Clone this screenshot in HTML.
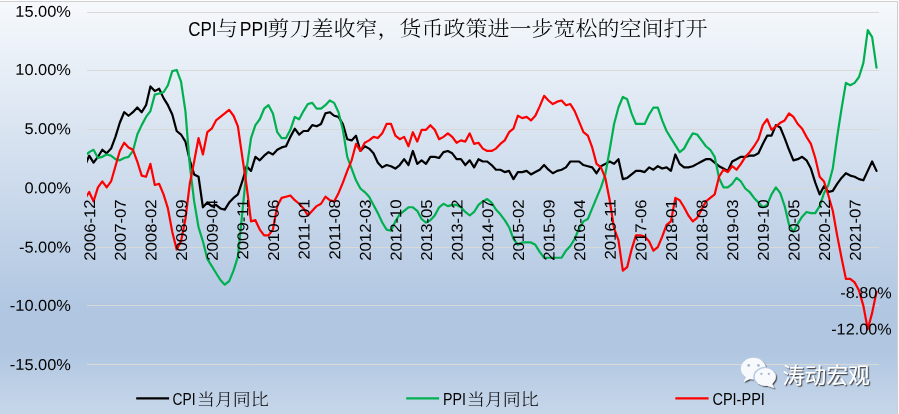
<!DOCTYPE html>
<html lang="zh-CN"><head><meta charset="utf-8"><title>CPI与PPI剪刀差</title>
<style>html,body{margin:0;padding:0;background:#fff;}svg{display:block;will-change:transform;}</style></head>
<body>
<svg width="899" height="414" viewBox="0 0 899 414">
<defs>
<linearGradient id="bg" gradientUnits="userSpaceOnUse" x1="0" y1="1.5" x2="0" y2="421.5">
<stop offset="0" stop-color="#F6F9FC"/>
<stop offset="0.74" stop-color="#B0C6E1"/>
<stop offset="0.83" stop-color="#B0C6E1"/>
<stop offset="1" stop-color="#CAD9EB"/>
</linearGradient>
<clipPath id="plot"><rect x="87.0" y="0" width="795.7" height="414"/></clipPath>
<filter id="sh" x="-10%" y="-10%" width="130%" height="140%"><feDropShadow dx="1.2" dy="1.2" stdDeviation="0.6" flood-color="#333" flood-opacity="0.85"/></filter>
</defs>
<rect width="899" height="414" fill="#fbfcfe"/>
<rect x="0" y="1.5" width="897.5" height="414" fill="url(#bg)"/>
<path d="M0,1.5 H897.5 V414" fill="none" stroke="#cfcfcf" stroke-width="1"/>
<line x1="87" x2="879" y1="12.5" y2="12.5" stroke="#d9d9d9" stroke-width="1" shape-rendering="crispEdges"/>
<line x1="87" x2="879" y1="70.5" y2="70.5" stroke="#d9d9d9" stroke-width="1" shape-rendering="crispEdges"/>
<line x1="87" x2="879" y1="129.5" y2="129.5" stroke="#d9d9d9" stroke-width="1" shape-rendering="crispEdges"/>
<line x1="87" x2="879" y1="188.5" y2="188.5" stroke="#d9d9d9" stroke-width="1" shape-rendering="crispEdges"/>
<line x1="87" x2="879" y1="247.5" y2="247.5" stroke="#d9d9d9" stroke-width="1" shape-rendering="crispEdges"/>
<line x1="87" x2="879" y1="305.5" y2="305.5" stroke="#d9d9d9" stroke-width="1" shape-rendering="crispEdges"/>
<line x1="87" x2="879" y1="364.5" y2="364.5" stroke="#d9d9d9" stroke-width="1" shape-rendering="crispEdges"/>
<line x1="87.5" x2="87.5" y1="189" y2="194" stroke="#d6d9de" stroke-width="1" shape-rendering="crispEdges"/>
<line x1="117.5" x2="117.5" y1="189" y2="194" stroke="#d6d9de" stroke-width="1" shape-rendering="crispEdges"/>
<line x1="148.5" x2="148.5" y1="189" y2="194" stroke="#d6d9de" stroke-width="1" shape-rendering="crispEdges"/>
<line x1="178.5" x2="178.5" y1="189" y2="194" stroke="#d6d9de" stroke-width="1" shape-rendering="crispEdges"/>
<line x1="209.5" x2="209.5" y1="189" y2="194" stroke="#d6d9de" stroke-width="1" shape-rendering="crispEdges"/>
<line x1="240.5" x2="240.5" y1="189" y2="194" stroke="#d6d9de" stroke-width="1" shape-rendering="crispEdges"/>
<line x1="270.5" x2="270.5" y1="189" y2="194" stroke="#d6d9de" stroke-width="1" shape-rendering="crispEdges"/>
<line x1="301.5" x2="301.5" y1="189" y2="194" stroke="#d6d9de" stroke-width="1" shape-rendering="crispEdges"/>
<line x1="331.5" x2="331.5" y1="189" y2="194" stroke="#d6d9de" stroke-width="1" shape-rendering="crispEdges"/>
<line x1="362.5" x2="362.5" y1="189" y2="194" stroke="#d6d9de" stroke-width="1" shape-rendering="crispEdges"/>
<line x1="393.5" x2="393.5" y1="189" y2="194" stroke="#d6d9de" stroke-width="1" shape-rendering="crispEdges"/>
<line x1="423.5" x2="423.5" y1="189" y2="194" stroke="#d6d9de" stroke-width="1" shape-rendering="crispEdges"/>
<line x1="454.5" x2="454.5" y1="189" y2="194" stroke="#d6d9de" stroke-width="1" shape-rendering="crispEdges"/>
<line x1="485.5" x2="485.5" y1="189" y2="194" stroke="#d6d9de" stroke-width="1" shape-rendering="crispEdges"/>
<line x1="515.5" x2="515.5" y1="189" y2="194" stroke="#d6d9de" stroke-width="1" shape-rendering="crispEdges"/>
<line x1="546.5" x2="546.5" y1="189" y2="194" stroke="#d6d9de" stroke-width="1" shape-rendering="crispEdges"/>
<line x1="576.5" x2="576.5" y1="189" y2="194" stroke="#d6d9de" stroke-width="1" shape-rendering="crispEdges"/>
<line x1="607.5" x2="607.5" y1="189" y2="194" stroke="#d6d9de" stroke-width="1" shape-rendering="crispEdges"/>
<line x1="638.5" x2="638.5" y1="189" y2="194" stroke="#d6d9de" stroke-width="1" shape-rendering="crispEdges"/>
<line x1="668.5" x2="668.5" y1="189" y2="194" stroke="#d6d9de" stroke-width="1" shape-rendering="crispEdges"/>
<line x1="699.5" x2="699.5" y1="189" y2="194" stroke="#d6d9de" stroke-width="1" shape-rendering="crispEdges"/>
<line x1="729.5" x2="729.5" y1="189" y2="194" stroke="#d6d9de" stroke-width="1" shape-rendering="crispEdges"/>
<line x1="760.5" x2="760.5" y1="189" y2="194" stroke="#d6d9de" stroke-width="1" shape-rendering="crispEdges"/>
<line x1="791.5" x2="791.5" y1="189" y2="194" stroke="#d6d9de" stroke-width="1" shape-rendering="crispEdges"/>
<line x1="821.5" x2="821.5" y1="189" y2="194" stroke="#d6d9de" stroke-width="1" shape-rendering="crispEdges"/>
<line x1="852.5" x2="852.5" y1="189" y2="194" stroke="#d6d9de" stroke-width="1" shape-rendering="crispEdges"/>
<text transform="translate(70.9,16.80) rotate(0.15) scale(1.045,1)" text-anchor="end" font-family='"Liberation Sans", "Noto Sans CJK SC", sans-serif' font-size="15.7" fill="#000">15.00%</text>
<text transform="translate(70.9,75.00) rotate(0.15) scale(1.045,1)" text-anchor="end" font-family='"Liberation Sans", "Noto Sans CJK SC", sans-serif' font-size="15.7" fill="#000">10.00%</text>
<text transform="translate(70.9,134.20) rotate(0.15) scale(1.045,1)" text-anchor="end" font-family='"Liberation Sans", "Noto Sans CJK SC", sans-serif' font-size="15.7" fill="#000">5.00%</text>
<text transform="translate(70.9,193.40) rotate(0.15) scale(1.045,1)" text-anchor="end" font-family='"Liberation Sans", "Noto Sans CJK SC", sans-serif' font-size="15.7" fill="#000">0.00%</text>
<text transform="translate(70.9,252.60) rotate(0.15) scale(1.045,1)" text-anchor="end" font-family='"Liberation Sans", "Noto Sans CJK SC", sans-serif' font-size="15.7" fill="#000">-5.00%</text>
<text transform="translate(70.9,310.80) rotate(0.15) scale(1.045,1)" text-anchor="end" font-family='"Liberation Sans", "Noto Sans CJK SC", sans-serif' font-size="15.7" fill="#000">-10.00%</text>
<text transform="translate(70.9,370.00) rotate(0.15) scale(1.045,1)" text-anchor="end" font-family='"Liberation Sans", "Noto Sans CJK SC", sans-serif' font-size="15.7" fill="#000">-15.00%</text>
<path clip-path="url(#plot)" d="M84.81,166.21 L89.19,155.65 L93.56,162.69 L97.94,156.82 L102.31,149.78 L106.68,153.30 L111.06,148.61 L115.43,136.87 L119.81,122.79 L124.18,112.23 L128.55,115.75 L132.93,112.23 L137.30,107.54 L141.68,112.23 L146.05,105.19 L150.42,86.42 L154.80,91.11 L159.17,88.77 L163.55,98.15 L167.92,105.19 L172.29,114.58 L176.67,131.01 L181.04,134.53 L185.42,141.57 L189.79,160.34 L194.16,174.42 L198.54,176.77 L202.91,207.27 L207.29,202.58 L211.66,206.10 L216.03,204.93 L220.41,208.45 L224.78,209.62 L229.16,202.58 L233.53,197.89 L237.90,194.37 L242.28,181.46 L246.65,166.21 L251.03,170.90 L255.40,156.82 L259.77,160.34 L264.15,155.65 L268.52,152.13 L272.90,154.47 L277.27,149.78 L281.64,147.43 L286.02,146.26 L290.39,136.87 L294.77,128.66 L299.14,134.53 L303.51,131.01 L307.89,131.01 L312.26,125.14 L316.64,126.31 L321.01,123.97 L325.38,113.41 L329.76,112.23 L334.13,115.75 L338.51,116.93 L342.88,123.97 L347.25,139.22 L351.63,140.39 L356.00,135.70 L360.38,150.95 L364.75,146.26 L369.13,148.61 L373.50,153.30 L377.87,162.69 L382.25,167.38 L386.62,165.03 L391.00,166.21 L395.37,168.55 L399.74,165.03 L404.12,159.17 L408.49,165.03 L412.87,150.95 L417.24,163.86 L421.61,160.34 L425.99,163.86 L430.36,156.82 L434.74,156.82 L439.11,157.99 L443.48,152.13 L447.86,150.95 L452.23,153.30 L456.61,159.17 L460.98,159.17 L465.35,165.03 L469.73,160.34 L474.10,167.38 L478.48,159.17 L482.85,161.51 L487.22,161.51 L491.60,165.03 L495.97,169.73 L500.35,169.73 L504.72,172.07 L509.09,170.90 L513.47,179.11 L517.84,172.07 L522.22,172.07 L526.59,170.90 L530.96,174.42 L535.34,172.07 L539.71,169.73 L544.09,165.03 L548.46,169.73 L552.83,173.25 L557.21,170.90 L561.58,169.73 L565.96,167.38 L570.33,161.51 L574.70,161.51 L579.08,161.51 L583.45,165.03 L587.83,166.21 L592.20,167.38 L596.57,173.25 L600.95,166.21 L605.32,163.86 L609.70,161.51 L614.07,163.86 L618.45,159.17 L622.82,179.11 L627.19,177.94 L631.57,174.42 L635.94,170.90 L640.32,170.90 L644.69,172.07 L649.06,167.38 L653.44,169.73 L657.81,166.21 L662.19,168.55 L666.56,167.38 L670.93,170.90 L675.31,154.47 L679.68,163.86 L684.06,167.38 L688.43,167.38 L692.80,166.21 L697.18,163.86 L701.55,161.51 L705.93,159.17 L710.30,159.17 L714.67,162.69 L719.05,166.21 L723.42,168.55 L727.80,170.90 L732.17,161.51 L736.54,159.17 L740.92,156.82 L745.29,156.82 L749.67,155.65 L754.04,155.65 L758.41,153.30 L762.79,143.91 L767.16,135.70 L771.54,135.70 L775.91,125.14 L780.28,127.49 L784.66,138.05 L789.03,149.78 L793.41,160.34 L797.78,159.17 L802.15,156.82 L806.53,160.34 L810.90,168.55 L815.28,182.63 L819.65,194.37 L824.02,186.15 L828.40,192.02 L832.77,190.85 L837.15,183.81 L841.52,177.94 L845.89,173.25 L850.27,175.59 L854.64,176.77 L859.02,179.11 L863.39,180.29 L867.76,170.90 L872.14,161.51 L876.51,170.90" fill="none" stroke="#000000" stroke-width="2.2" stroke-linejoin="round" stroke-linecap="round"/>
<path clip-path="url(#plot)" d="M84.81,155.88 L89.19,152.13 L93.56,149.78 L97.94,157.99 L102.31,156.82 L106.68,154.47 L111.06,155.65 L115.43,159.17 L119.81,160.34 L124.18,157.99 L128.55,156.82 L132.93,150.95 L137.30,134.53 L141.68,125.14 L146.05,116.93 L150.42,111.06 L154.80,94.63 L159.17,93.46 L163.55,92.29 L167.92,85.25 L172.29,71.17 L176.67,69.99 L181.04,81.73 L185.42,111.06 L189.79,165.03 L194.16,201.41 L198.54,227.22 L202.91,241.30 L207.29,258.90 L211.66,265.94 L216.03,272.98 L220.41,280.02 L224.78,284.71 L229.16,281.19 L233.53,270.63 L237.90,256.55 L242.28,213.14 L246.65,168.55 L251.03,138.05 L255.40,125.14 L259.77,119.27 L264.15,108.71 L268.52,105.19 L272.90,113.41 L277.27,132.18 L281.64,138.05 L286.02,138.05 L290.39,129.83 L294.77,116.93 L299.14,119.27 L303.51,111.06 L307.89,104.02 L312.26,102.85 L316.64,108.71 L321.01,108.71 L325.38,105.19 L329.76,100.50 L334.13,102.85 L338.51,112.23 L342.88,129.83 L347.25,156.82 L351.63,168.55 L356.00,180.29 L360.38,188.50 L364.75,192.02 L369.13,196.71 L373.50,204.93 L377.87,213.14 L382.25,222.53 L386.62,229.57 L391.00,230.74 L395.37,221.35 L399.74,214.31 L404.12,210.79 L408.49,207.27 L412.87,207.27 L417.24,210.79 L421.61,219.01 L425.99,222.53 L430.36,220.18 L434.74,215.49 L439.11,207.27 L443.48,203.75 L447.86,206.10 L452.23,204.93 L456.61,204.93 L460.98,207.27 L465.35,211.97 L469.73,215.49 L474.10,211.97 L478.48,204.93 L482.85,201.41 L487.22,199.06 L491.60,202.58 L495.97,209.62 L500.35,214.31 L504.72,220.18 L509.09,227.22 L513.47,238.95 L517.84,244.82 L522.22,242.47 L526.59,242.47 L530.96,242.47 L535.34,244.82 L539.71,251.86 L544.09,257.73 L548.46,257.73 L552.83,257.73 L557.21,257.73 L561.58,257.73 L565.96,250.69 L570.33,245.99 L574.70,238.95 L579.08,228.39 L583.45,221.35 L587.83,219.01 L592.20,208.45 L596.57,197.89 L600.95,187.33 L605.32,174.42 L609.70,149.78 L614.07,123.97 L618.45,107.54 L622.82,96.98 L627.19,99.33 L631.57,113.41 L635.94,123.97 L640.32,123.97 L644.69,123.97 L649.06,114.58 L653.44,107.54 L657.81,107.54 L662.19,120.45 L666.56,131.01 L670.93,138.05 L675.31,145.09 L679.68,152.13 L684.06,148.61 L688.43,140.39 L692.80,133.35 L697.18,134.53 L701.55,140.39 L705.93,146.26 L710.30,149.78 L714.67,156.82 L719.05,177.94 L723.42,187.33 L727.80,187.33 L732.17,183.81 L736.54,177.94 L740.92,181.46 L745.29,188.50 L749.67,192.02 L754.04,197.89 L758.41,202.58 L762.79,207.27 L767.16,204.93 L771.54,194.37 L775.91,187.33 L780.28,193.19 L784.66,206.10 L789.03,224.87 L793.41,231.91 L797.78,223.70 L802.15,216.66 L806.53,211.97 L810.90,213.14 L815.28,213.14 L819.65,206.10 L824.02,193.19 L828.40,184.98 L832.77,168.55 L837.15,136.87 L841.52,108.71 L845.89,82.90 L850.27,85.25 L854.64,82.90 L859.02,77.03 L863.39,62.95 L867.76,30.10 L872.14,37.14 L876.51,67.65" fill="none" stroke="#00b050" stroke-width="2.2" stroke-linejoin="round" stroke-linecap="round"/>
<path clip-path="url(#plot)" d="M84.81,198.83 L89.19,192.02 L93.56,201.41 L97.94,187.33 L102.31,181.46 L106.68,187.33 L111.06,181.46 L115.43,166.21 L119.81,150.95 L124.18,142.74 L128.55,147.43 L132.93,149.78 L137.30,161.51 L141.68,175.59 L146.05,176.77 L150.42,163.86 L154.80,184.98 L159.17,183.81 L163.55,194.37 L167.92,208.45 L172.29,231.91 L176.67,249.51 L181.04,241.30 L185.42,219.01 L189.79,183.81 L194.16,161.51 L198.54,138.05 L202.91,154.47 L207.29,132.18 L211.66,128.66 L216.03,120.45 L220.41,116.93 L224.78,113.41 L229.16,109.89 L233.53,115.75 L237.90,126.31 L242.28,156.82 L246.65,186.15 L251.03,221.35 L255.40,220.18 L259.77,229.57 L264.15,235.43 L268.52,235.43 L272.90,229.57 L277.27,206.10 L281.64,197.89 L286.02,196.71 L290.39,195.54 L294.77,200.23 L299.14,203.75 L303.51,208.45 L307.89,215.49 L312.26,210.79 L316.64,206.10 L321.01,203.75 L325.38,196.71 L329.76,200.23 L334.13,201.41 L338.51,193.19 L342.88,182.63 L347.25,170.90 L351.63,160.34 L356.00,143.91 L360.38,150.95 L364.75,142.74 L369.13,140.39 L373.50,136.87 L377.87,138.05 L382.25,133.35 L386.62,123.97 L391.00,123.97 L395.37,135.70 L399.74,139.22 L404.12,136.87 L408.49,146.26 L412.87,132.18 L417.24,141.57 L421.61,129.83 L425.99,129.83 L430.36,125.14 L434.74,129.83 L439.11,139.22 L443.48,136.87 L447.86,133.35 L452.23,136.87 L456.61,142.74 L460.98,140.39 L465.35,141.57 L469.73,133.35 L474.10,143.91 L478.48,142.74 L482.85,148.61 L487.22,150.95 L491.60,150.95 L495.97,148.61 L500.35,143.91 L504.72,140.39 L509.09,132.18 L513.47,128.66 L517.84,115.75 L522.22,118.10 L526.59,116.93 L530.96,120.45 L535.34,115.75 L539.71,106.37 L544.09,95.81 L548.46,100.50 L552.83,104.02 L557.21,101.67 L561.58,100.50 L565.96,105.19 L570.33,104.02 L574.70,111.06 L579.08,121.62 L583.45,132.18 L587.83,135.70 L592.20,147.43 L596.57,163.86 L600.95,167.38 L605.32,177.94 L609.70,200.23 L614.07,228.39 L618.45,240.13 L622.82,270.63 L627.19,267.11 L631.57,249.51 L635.94,235.43 L640.32,235.43 L644.69,236.61 L649.06,241.30 L653.44,250.69 L657.81,247.17 L662.19,236.61 L666.56,224.87 L670.93,221.35 L675.31,197.89 L679.68,200.23 L684.06,207.27 L688.43,215.49 L692.80,221.35 L697.18,217.83 L701.55,209.62 L705.93,201.41 L710.30,197.89 L714.67,194.37 L719.05,176.77 L723.42,169.73 L727.80,172.07 L732.17,166.21 L736.54,169.73 L740.92,163.86 L745.29,156.82 L749.67,152.13 L754.04,146.26 L758.41,139.22 L762.79,125.14 L767.16,119.27 L771.54,129.83 L775.91,126.31 L780.28,122.79 L784.66,120.45 L789.03,113.41 L793.41,116.93 L797.78,123.97 L802.15,128.66 L806.53,136.87 L810.90,143.91 L815.28,157.99 L819.65,176.77 L824.02,181.46 L828.40,195.54 L832.77,210.79 L837.15,235.43 L841.52,257.73 L845.89,278.85 L850.27,278.85 L854.64,282.37 L859.02,290.58 L863.39,305.83 L867.76,329.30 L872.14,312.87 L876.51,291.75" fill="none" stroke="#ff0000" stroke-width="2.2" stroke-linejoin="round" stroke-linecap="round"/>
<text transform="translate(95.09,199.30) rotate(-90.15) scale(1.068,1)" text-anchor="end" font-family='"Liberation Sans", "Noto Sans CJK SC", sans-serif' font-size="15.7" fill="#000">2006-12</text>
<text transform="translate(125.71,199.30) rotate(-90.15) scale(1.068,1)" text-anchor="end" font-family='"Liberation Sans", "Noto Sans CJK SC", sans-serif' font-size="15.7" fill="#000">2007-07</text>
<text transform="translate(156.32,199.30) rotate(-90.15) scale(1.068,1)" text-anchor="end" font-family='"Liberation Sans", "Noto Sans CJK SC", sans-serif' font-size="15.7" fill="#000">2008-02</text>
<text transform="translate(186.94,199.30) rotate(-90.15) scale(1.068,1)" text-anchor="end" font-family='"Liberation Sans", "Noto Sans CJK SC", sans-serif' font-size="15.7" fill="#000">2008-09</text>
<text transform="translate(217.56,199.30) rotate(-90.15) scale(1.068,1)" text-anchor="end" font-family='"Liberation Sans", "Noto Sans CJK SC", sans-serif' font-size="15.7" fill="#000">2009-04</text>
<text transform="translate(248.18,199.30) rotate(-90.15) scale(1.068,1)" text-anchor="end" font-family='"Liberation Sans", "Noto Sans CJK SC", sans-serif' font-size="15.7" fill="#000">2009-11</text>
<text transform="translate(278.80,199.30) rotate(-90.15) scale(1.068,1)" text-anchor="end" font-family='"Liberation Sans", "Noto Sans CJK SC", sans-serif' font-size="15.7" fill="#000">2010-06</text>
<text transform="translate(309.41,199.30) rotate(-90.15) scale(1.068,1)" text-anchor="end" font-family='"Liberation Sans", "Noto Sans CJK SC", sans-serif' font-size="15.7" fill="#000">2011-01</text>
<text transform="translate(340.03,199.30) rotate(-90.15) scale(1.068,1)" text-anchor="end" font-family='"Liberation Sans", "Noto Sans CJK SC", sans-serif' font-size="15.7" fill="#000">2011-08</text>
<text transform="translate(370.65,199.30) rotate(-90.15) scale(1.068,1)" text-anchor="end" font-family='"Liberation Sans", "Noto Sans CJK SC", sans-serif' font-size="15.7" fill="#000">2012-03</text>
<text transform="translate(401.27,199.30) rotate(-90.15) scale(1.068,1)" text-anchor="end" font-family='"Liberation Sans", "Noto Sans CJK SC", sans-serif' font-size="15.7" fill="#000">2012-10</text>
<text transform="translate(431.89,199.30) rotate(-90.15) scale(1.068,1)" text-anchor="end" font-family='"Liberation Sans", "Noto Sans CJK SC", sans-serif' font-size="15.7" fill="#000">2013-05</text>
<text transform="translate(462.51,199.30) rotate(-90.15) scale(1.068,1)" text-anchor="end" font-family='"Liberation Sans", "Noto Sans CJK SC", sans-serif' font-size="15.7" fill="#000">2013-12</text>
<text transform="translate(493.12,199.30) rotate(-90.15) scale(1.068,1)" text-anchor="end" font-family='"Liberation Sans", "Noto Sans CJK SC", sans-serif' font-size="15.7" fill="#000">2014-07</text>
<text transform="translate(523.74,199.30) rotate(-90.15) scale(1.068,1)" text-anchor="end" font-family='"Liberation Sans", "Noto Sans CJK SC", sans-serif' font-size="15.7" fill="#000">2015-02</text>
<text transform="translate(554.36,199.30) rotate(-90.15) scale(1.068,1)" text-anchor="end" font-family='"Liberation Sans", "Noto Sans CJK SC", sans-serif' font-size="15.7" fill="#000">2015-09</text>
<text transform="translate(584.98,199.30) rotate(-90.15) scale(1.068,1)" text-anchor="end" font-family='"Liberation Sans", "Noto Sans CJK SC", sans-serif' font-size="15.7" fill="#000">2016-04</text>
<text transform="translate(615.60,199.30) rotate(-90.15) scale(1.068,1)" text-anchor="end" font-family='"Liberation Sans", "Noto Sans CJK SC", sans-serif' font-size="15.7" fill="#000">2016-11</text>
<text transform="translate(646.22,199.30) rotate(-90.15) scale(1.068,1)" text-anchor="end" font-family='"Liberation Sans", "Noto Sans CJK SC", sans-serif' font-size="15.7" fill="#000">2017-06</text>
<text transform="translate(676.83,199.30) rotate(-90.15) scale(1.068,1)" text-anchor="end" font-family='"Liberation Sans", "Noto Sans CJK SC", sans-serif' font-size="15.7" fill="#000">2018-01</text>
<text transform="translate(707.45,199.30) rotate(-90.15) scale(1.068,1)" text-anchor="end" font-family='"Liberation Sans", "Noto Sans CJK SC", sans-serif' font-size="15.7" fill="#000">2018-08</text>
<text transform="translate(738.07,199.30) rotate(-90.15) scale(1.068,1)" text-anchor="end" font-family='"Liberation Sans", "Noto Sans CJK SC", sans-serif' font-size="15.7" fill="#000">2019-03</text>
<text transform="translate(768.69,199.30) rotate(-90.15) scale(1.068,1)" text-anchor="end" font-family='"Liberation Sans", "Noto Sans CJK SC", sans-serif' font-size="15.7" fill="#000">2019-10</text>
<text transform="translate(799.31,199.30) rotate(-90.15) scale(1.068,1)" text-anchor="end" font-family='"Liberation Sans", "Noto Sans CJK SC", sans-serif' font-size="15.7" fill="#000">2020-05</text>
<text transform="translate(829.92,199.30) rotate(-90.15) scale(1.068,1)" text-anchor="end" font-family='"Liberation Sans", "Noto Sans CJK SC", sans-serif' font-size="15.7" fill="#000">2020-12</text>
<text transform="translate(860.54,199.30) rotate(-90.15) scale(1.068,1)" text-anchor="end" font-family='"Liberation Sans", "Noto Sans CJK SC", sans-serif' font-size="15.7" fill="#000">2021-07</text>
<text transform="translate(0,28.4) scale(1,0.94) translate(0,-28.4)" font-size="22" fill="#000" font-family='"Liberation Sans", "Noto Serif CJK SC", serif' font-weight="300"><tspan x="188.3" y="36.5" font-size="21" textLength="28.3" lengthAdjust="spacingAndGlyphs">CPI</tspan><tspan x="215.9" y="36">与</tspan><tspan x="239.8" y="36.5" font-size="21" textLength="28.3" lengthAdjust="spacingAndGlyphs">PPI</tspan><tspan x="267.6" y="36">剪刀差收窄，货币政策进一步宽松的空间打开</tspan></text>
<text transform="translate(891.6,298.2) rotate(0.15) scale(1.033,1)" text-anchor="end" font-family='"Liberation Sans", "Noto Sans CJK SC", sans-serif' font-size="15.7" fill="#000">-8.80%</text>
<text transform="translate(891.6,334.6) rotate(0.15) scale(1.033,1)" text-anchor="end" font-family='"Liberation Sans", "Noto Sans CJK SC", sans-serif' font-size="15.7" fill="#000">-12.00%</text>
<line x1="136.2" x2="169.1" y1="398.4" y2="398.4" stroke="#000" stroke-width="2.3"/>
<text x="172.5" y="405.0" font-size="16" fill="#000" font-family='"Liberation Sans", "Noto Sans CJK SC", sans-serif' textLength="23" lengthAdjust="spacingAndGlyphs">CPI</text>
<text transform="translate(196.9,406.2) scale(1,0.91)" y="-1.2" font-size="18" fill="#000" font-family='"Liberation Sans", "Noto Serif CJK SC", serif' font-weight="300">当月同比</text>
<line x1="406.2" x2="439.1" y1="398.4" y2="398.4" stroke="#00b050" stroke-width="2.3"/>
<text x="442.9" y="405.0" font-size="16" fill="#000" font-family='"Liberation Sans", "Noto Sans CJK SC", sans-serif' textLength="23" lengthAdjust="spacingAndGlyphs">PPI</text>
<text transform="translate(466.9,406.2) scale(1,0.91)" y="-1.2" font-size="18" fill="#000" font-family='"Liberation Sans", "Noto Serif CJK SC", serif' font-weight="300">当月同比</text>
<line x1="675.3" x2="708.6" y1="398.4" y2="398.4" stroke="#ff0000" stroke-width="2.3"/>
<text x="712.4" y="405.0" font-size="16" fill="#000" font-family='"Liberation Sans", "Noto Sans CJK SC", sans-serif' textLength="52.5" lengthAdjust="spacingAndGlyphs">CPI-PPI</text>
<g filter="url(#sh)" fill="#f7f9fc"><ellipse cx="753.4" cy="368.6" rx="12.5" ry="10.9"/><path d="M746.5,376 L743.6,382 L752,378 z"/></g>
<ellipse cx="765.3" cy="377" rx="12" ry="10.3" fill="#b6c9e5"/>
<g filter="url(#sh)" fill="#f7f9fc"><ellipse cx="765.3" cy="377" rx="10.6" ry="8.9"/><path d="M771.5,383 L774.6,388.2 L766,385.5 z"/></g>
<g fill="#9fb3d2"><circle cx="748.7" cy="365.4" r="1.3"/><circle cx="758.4" cy="365.4" r="1.3"/><circle cx="761.4" cy="373.8" r="1.15"/><circle cx="768.9" cy="373.8" r="1.15"/></g>
<text x="782.6" y="382.6" font-size="21.8" fill="#fff" filter="url(#sh)" font-family='"Liberation Sans", "Noto Sans CJK SC", sans-serif' font-weight="400">涛动宏观</text>
</svg>
</body></html>
